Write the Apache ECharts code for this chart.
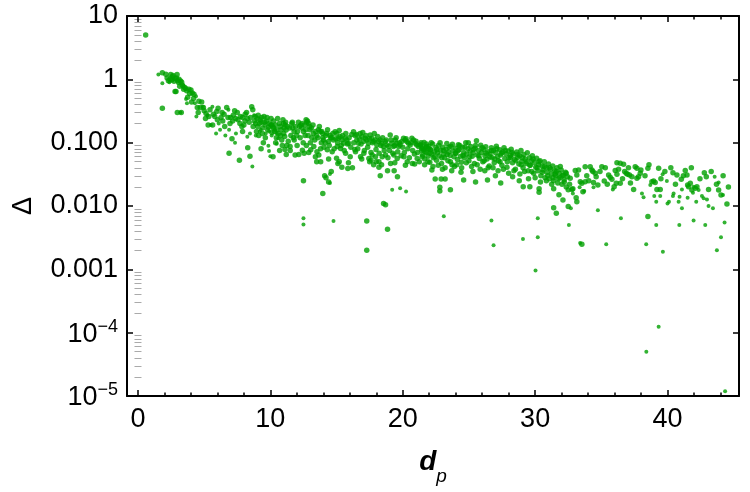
<!DOCTYPE html>
<html>
<head>
<meta charset="utf-8">
<script src="https://cdn.jsdelivr.net/npm/echarts@6/dist/echarts.min.js"></script>
<style>
  html, body { margin: 0; padding: 0; background: #fff; }
  #chart { width: 750px; height: 492px; }
</style>
</head>
<body>
<div id="chart"></div>
<script>
// axis ranges and ticks
const xRange = [-0.83, 45.4];
const yRange = [1e-5, 10];
const xMajorTicks = [0, 10, 20, 30, 40];
const xMinorTicks = [2, 4, 6, 8, 12, 14, 16, 18, 22, 24, 26, 28, 32, 34, 36, 38, 42, 44];
const yDecades = [-5, -4, -3, -2, -1, 0];
const yMantissas = [2, 3, 4, 5, 6, 7, 8, 9];
const yTickText = { '1': '10', '0': '1', '-1': '0.100', '-2': '0.010', '-3': '0.001', '-4': '{b|10}{s|−4}', '-5': '{b|10}{s|−5}' };

// Δ against d_p (bigger dots)
const headPts = [
  [0.58,5.0],[1.84,1.27],[2.47,1.19],[2.95,1.19],[2.55,0.98],[2.42,1.0],[2.8,1.03],[2.72,0.93],[3.22,0.94],
  [3.35,0.81],[3.07,0.89],[2.6,1.1],[2.9,1.05],[3.1,1.0],[2.2,1.05],[3.5,0.75],[3.6,0.72],[3.15,0.78],
  [2.8,0.64],[2.87,0.64],[2.97,0.30],[3.27,0.30],[1.84,0.35],[3.68,0.66],[3.85,0.70],[4.0,0.68],[4.1,0.61],
  [4.23,0.58],[3.75,0.52],[4.05,0.44],[4.48,0.36],[4.7,0.36],[4.94,0.36],[4.81,0.44],[5.14,0.29],[5.44,0.33],
  [5.3,0.19],[5.64,0.19],[5.95,0.31],[6.27,0.25],[5.8,0.26],[6.0,0.23],[6.4,0.22],[6.5,0.28],[6.7,0.36],
  [6.95,0.20],[7.0,0.25],[7.1,0.115],[7.2,0.27],[7.38,0.24],[7.5,0.30],[7.7,0.20],[7.85,0.18],[7.9,0.25],
  [8.08,0.22],[8.1,0.28],[8.26,0.24],[7.9,0.15],[8.4,0.21],[8.59,0.37],[8.67,0.33],[8.8,0.22],[8.89,0.20],
  [9.0,0.24],[9.04,0.18],[9.17,0.20],[9.3,0.21],[9.42,0.17],[9.52,0.26],[9.6,0.19],[9.7,0.22],[9.85,0.175],
  [10.03,0.19],[10.18,0.178],[9.47,0.10],[10.2,0.06],[8.29,0.083],[8.46,0.061],[6.88,0.068],[7.66,0.053],
  [2.1,1.2],[2.3,0.95],[2.65,1.15],[3.0,0.95],[3.3,0.9],[3.45,0.7],[3.9,0.6],[4.2,0.5],[4.6,0.45],[4.55,0.3],
  [5.0,0.32],[5.1,0.24],[5.35,0.26],[5.7,0.28],[6.05,0.35],[6.35,0.3],[6.55,0.18],[6.8,0.25],[7.15,0.22],
  [7.3,0.32],[7.55,0.23],[7.75,0.26],[8.0,0.19],[8.2,0.3],[8.5,0.25],[8.7,0.18]
];
const midPts = [
  [10.1,0.19],[10.23,0.17],[10.31,0.15],[10.48,0.16],[10.61,0.14],[10.74,0.18],[10.77,0.13],[10.86,0.11],
  [10.99,0.20],[11.04,0.17],[11.11,0.19],[11.19,0.158],[11.0,0.14],[11.24,0.09],[11.1,0.078],[10.4,0.10],
  [10.9,0.09],[11.49,0.087],[11.62,0.20],[11.69,0.17],[11.79,0.15],[11.74,0.12],[11.87,0.064],[11.99,0.13],
  [12.02,0.09],[12.2,0.18],[12.3,0.19],[12.37,0.17],[12.42,0.076],[12.5,0.15],[12.55,0.068],[12.62,0.13],
  [12.7,0.23],[12.75,0.21],[12.8,0.22],[12.72,0.09],[12.95,0.18],[13.0,0.16],[13.05,0.077],[13.13,0.12],
  [13.25,0.14],[13.28,0.087],[13.5,0.13],[13.52,0.072],[13.63,0.16],[13.66,0.064],[13.76,0.15],[13.79,0.08],
  [13.88,0.15],[13.96,0.12],[14.01,0.11],[14.14,0.10],[14.26,0.14],[14.3,0.077],[14.39,0.104],[14.51,0.13],
  [14.64,0.12],[14.67,0.072],[14.77,0.11],[14.89,0.149],[15.02,0.14],[15.05,0.087],[15.14,0.117],[15.27,0.124],
  [15.3,0.081],[15.4,0.11],[15.52,0.098],[15.65,0.117],[15.68,0.068],[15.77,0.11],[15.9,0.098],[16.03,0.06],
  [16.28,0.149],[16.4,0.13],[16.43,0.072],[16.53,0.11],[16.66,0.098],[16.78,0.14],[16.81,0.06],[16.91,0.124],
  [17.03,0.104],[17.06,0.068],[17.16,0.117],[17.28,0.11],[17.41,0.0975],[17.44,0.056],[17.54,0.132],[17.66,0.117],
  [17.69,0.064],[17.79,0.104],[17.91,0.11],[17.94,0.06],[18.04,0.092],[18.17,0.104],[18.2,0.05],[18.29,0.11],
  [18.42,0.0975],[18.45,0.06],[18.54,0.087],[18.67,0.104],[18.7,0.064],[18.8,0.092],[18.92,0.087],[19.05,0.132],
  [19.08,0.047],[19.17,0.0975],[19.3,0.087],[19.33,0.064],[19.43,0.11],[19.55,0.0975],[19.58,0.056],[19.68,0.087],
  [19.8,0.092],[19.93,0.104],[20.06,0.117],[20.09,0.06],[20.18,0.11],[20.31,0.104],[20.34,0.05],[20.43,0.0975],
  [20.56,0.092],[20.69,0.117],[20.72,0.047],[20.81,0.11],[20.94,0.0975],[21.06,0.092],[21.09,0.056],[21.19,0.087],
  [21.31,0.092],[21.44,0.081],[21.47,0.06],[21.57,0.077],[21.69,0.072],[21.82,0.087],[21.94,0.081],[22.07,0.077],
  [12.5,0.025],[13.5,0.05],[13.8,0.05],[13.96,0.0158],[14.1,0.03],[14.2,0.028],[14.4,0.024],[14.6,0.035],
  [15.0,0.057],[15.1,0.047],[15.4,0.041],[15.85,0.039],[17.28,0.0058],[17.28,0.002],[17.6,0.053],[17.8,0.045],
  [18.0,0.05],[18.2,0.041],[18.3,0.03],[18.55,0.011],[18.7,0.0105],[18.85,0.0043],[18.85,0.036],[19.35,0.036],
  [19.6,0.029]
];
const tailPts = [
  [21.35,0.092],[21.43,0.075],[21.5,0.064],[21.61,0.101],[21.66,0.055],[21.74,0.083],[21.8,0.07],[21.91,0.061],
  [21.95,0.088],[22.04,0.049],[22.1,0.078],[22.19,0.066],[22.26,0.095],[22.31,0.058],[22.4,0.072],[22.5,0.084],
  [22.55,0.053],[22.62,0.069],[22.71,0.091],[22.77,0.062],[22.86,0.076],[22.93,0.047],[23.03,0.085],[23.1,0.066],
  [23.16,0.058],[23.27,0.079],[23.33,0.097],[23.41,0.052],[23.46,0.071],[23.58,0.063],[23.63,0.088],[23.72,0.045],
  [23.8,0.074],[23.87,0.06],[23.97,0.082],[24.02,0.068],[24.13,0.054],[24.2,0.093],[24.26,0.077],[24.37,0.061],
  [24.43,0.049],[24.52,0.085],[24.61,0.07],[24.66,0.058],[24.76,0.1],[24.83,0.066],[24.93,0.08],[25.0,0.052],
  [25.09,0.073],[25.14,0.087],[25.25,0.061],[25.31,0.069],[25.41,0.047],[25.46,0.082],[25.57,0.107],[25.63,0.064],
  [25.72,0.075],[25.79,0.056],[25.89,0.091],[25.95,0.07],[26.05,0.05],[26.11,0.079],[26.21,0.062],[26.27,0.086],
  [26.37,0.055],[26.43,0.072],[26.53,0.043],[26.6,0.066],[26.69,0.083],[26.75,0.058],[26.85,0.075],[26.91,0.048],
  [27.01,0.069],[27.07,0.088],[27.17,0.06],[27.23,0.052],[27.33,0.077],[27.39,0.064],[27.49,0.044],[27.55,0.071],
  [27.65,0.083],[27.71,0.056],[27.81,0.067],[27.87,0.041],[27.97,0.074],[28.03,0.058],[28.13,0.063],[28.19,0.079],
  [28.29,0.048],[28.35,0.066],[28.45,0.054],[28.51,0.038],[28.61,0.071],[28.67,0.059],[28.77,0.046],[28.83,0.062],
  [28.93,0.075],[28.99,0.051],[29.09,0.04],[29.15,0.065],[29.25,0.055],[29.31,0.047],[29.41,0.069],[29.47,0.036],
  [29.57,0.058],[29.63,0.044],[29.73,0.052],[29.79,0.062],[29.89,0.033],[29.95,0.048],[30.05,0.041],[30.11,0.057],
  [30.21,0.036],[30.27,0.045],[30.37,0.052],[30.43,0.03],[30.53,0.043],[30.59,0.037],[30.69,0.05],[30.75,0.028],
  [30.85,0.04],[30.91,0.034],[31.01,0.046],[31.07,0.027],[31.17,0.038],[31.23,0.032],[31.33,0.043],[31.39,0.025],
  [31.49,0.036],[31.55,0.03],[31.65,0.04],[31.71,0.023],[31.81,0.033],[31.87,0.028],[31.97,0.037],[32.03,0.022],
  [32.13,0.031],[32.19,0.026],[32.29,0.034],[32.35,0.02],[32.45,0.029],
  [22.45,0.0267],[22.9,0.0267],[23.2,0.0267],[22.8,0.0197],[22.8,0.0173],[23.6,0.018],[24.6,0.0258],[25.5,0.024],
  [26.4,0.0258],[27.4,0.023],[28.8,0.025],[29.1,0.0202],[29.6,0.0202],[30.3,0.0188],[30.3,0.0165],[31.4,0.0188],
  [31.8,0.015],[32.1,0.0124],[31.4,0.0094],[31.6,0.0077],[32.5,0.0098],[32.85,0.0188],[33.1,0.0135]
];
// second pass over the dense band
const bandPts = [
  [8.85,0.26],[8.95,0.15],[9.08,0.27],[9.12,0.13],[9.22,0.23],[9.35,0.25],[9.4,0.14],[9.55,0.21],[9.62,0.12],
  [9.75,0.25],[9.8,0.16],[9.92,0.20],[10.05,0.24],[10.12,0.145],[10.25,0.22],[10.38,0.19],[10.45,0.12],[10.55,0.24],
  [10.68,0.2],[10.82,0.16],[10.95,0.23],[11.08,0.125],[11.15,0.21],[11.3,0.18],[11.35,0.105],[9.3,0.08],[10.7,0.075],
  [11.2,0.065],[11.45,0.17],[11.55,0.13],[11.66,0.21],[11.8,0.11],[11.9,0.18],[12.05,0.15],[12.12,0.21],[12.25,0.12],
  [12.4,0.2],[12.48,0.1],[12.6,0.19],[12.68,0.16],[12.85,0.13],[12.9,0.2],[13.02,0.1],[13.1,0.17],[13.22,0.19],
  [13.35,0.11],[13.42,0.15],[13.58,0.12],[13.7,0.18],[13.85,0.1],[11.5,0.075],[12.15,0.065],[12.9,0.07],[13.4,0.06],
  [13.95,0.14],[14.05,0.085],[14.18,0.13],[14.32,0.16],[14.45,0.09],[14.55,0.12],[14.72,0.14],[14.82,0.08],
  [14.95,0.115],[15.08,0.1],[15.2,0.155],[15.35,0.09],[15.45,0.13],[15.58,0.075],[15.7,0.14],[15.82,0.095],
  [15.95,0.12],[16.08,0.085],[16.15,0.135],[16.3,0.1],[16.38,0.078],[14.4,0.055],[15.2,0.05],[15.9,0.048],[16.2,0.04],
  [16.5,0.135],[16.6,0.08],[16.72,0.115],[16.85,0.095],[16.98,0.145],[17.1,0.075],[17.22,0.13],[17.35,0.085],
  [17.48,0.115],[17.6,0.07],[17.72,0.1],[17.85,0.14],[17.98,0.078],[18.1,0.125],[18.22,0.068],[18.35,0.09],
  [18.48,0.12],[18.6,0.075],[18.75,0.11],[18.88,0.058],[16.9,0.055],[17.5,0.05],[18.4,0.045],
  [19.0,0.075],[19.12,0.11],[19.25,0.068],[19.38,0.09],[19.5,0.12],[19.62,0.072],[19.75,0.1],[19.88,0.062],
  [20.0,0.085],[20.12,0.07],[20.25,0.115],[20.38,0.08],[20.5,0.058],[20.62,0.1],[20.75,0.075],[20.88,0.066],
  [21.0,0.105],[21.12,0.07],[21.25,0.05],[21.38,0.1],[19.4,0.048],[20.2,0.044],[20.9,0.046],
  [21.52,0.085],[21.65,0.045],[21.78,0.095],[21.9,0.05],[22.05,0.068],[22.15,0.1],[22.28,0.042],[22.42,0.06],
  [22.58,0.078],[22.68,0.044],[22.82,0.1],[22.95,0.058],[23.08,0.075],[23.2,0.04],[23.35,0.065],[23.5,0.085],
  [23.6,0.05],[23.75,0.094],[23.9,0.042],[23.98,0.068],[22.2,0.037],[23.0,0.038],[23.7,0.036],
  [24.08,0.045],[24.18,0.075],[24.3,0.09],[24.45,0.04],[24.55,0.063],[24.7,0.085],[24.8,0.048],[24.95,0.1],
  [25.05,0.06],[25.2,0.042],[25.35,0.078],[25.5,0.09],[25.62,0.045],[25.75,0.062],[25.85,0.038],[26.0,0.083],
  [26.15,0.052],[26.3,0.068],[26.45,0.04],[24.4,0.034],[25.3,0.035],[26.2,0.036],
  [26.58,0.06],[26.7,0.075],[26.82,0.04],[26.95,0.055],[27.1,0.08],[27.2,0.036],[27.35,0.05],[27.45,0.068],
  [27.6,0.038],[27.75,0.075],[27.9,0.05],[28.0,0.033],[28.15,0.058],[28.25,0.07],[28.4,0.036],[28.55,0.052],
  [28.7,0.065],[28.85,0.032],[28.95,0.045],[27.0,0.03],[28.3,0.029],
  [29.05,0.058],[29.2,0.035],[29.35,0.05],[29.5,0.027],[29.6,0.044],[29.75,0.035],[29.85,0.055],[30.0,0.028],
  [30.15,0.04],[30.3,0.05],[30.4,0.024],[30.55,0.034],[30.7,0.042],[30.85,0.025],[30.95,0.03],[31.1,0.04],
  [31.25,0.022],[31.35,0.028],[31.5,0.032],[31.6,0.035],[31.75,0.027],[31.9,0.042],[32.05,0.03],[32.2,0.024],
  [32.35,0.033],[32.5,0.018],[32.6,0.022]
];
const farPts = [
  [32.65,0.0274],[32.78,0.0183],[33.03,0.0362],[33.15,0.0309],[33.28,0.0371],[33.41,0.0242],[33.53,0.0228],
  [33.61,0.0168],[33.78,0.0418],[33.78,0.0242],[33.15,0.0117],[34.16,0.0418],[34.29,0.0371],[34.36,0.0349],
  [34.41,0.0234],[34.54,0.0328],[34.61,0.029],[34.74,0.0215],[35.04,0.0418],[35.22,0.0248],[35.55,0.0309],
  [35.67,0.0284],[35.8,0.0264],[35.97,0.0202],[36.05,0.0362],[36.13,0.0228],[36.18,0.0483],[36.18,0.0316],
  [36.3,0.038],[36.43,0.0472],[36.43,0.0228],[36.68,0.0455],[36.76,0.0349],[36.88,0.0328],[36.98,0.0316],
  [37.13,0.0309],[37.31,0.029],[37.44,0.0183],[37.56,0.0418],[37.69,0.0394],[37.69,0.0274],[37.81,0.029],
  [37.94,0.0328],[37.99,0.0371],[38.52,0.0394],[38.82,0.0242],[38.95,0.0248],[39.07,0.0234],[39.2,0.0183],
  [39.33,0.0394],[39.45,0.0183],[40.41,0.0336],[40.71,0.0309],[41.04,0.0264],[41.34,0.0362],[41.47,0.0309],
  [41.52,0.0215],[41.59,0.0202],[41.72,0.0228],[41.84,0.0179],[42.1,0.019],[42.22,0.0202],[42.78,0.0336],
  [42.93,0.029],[43.1,0.0183],[43.86,0.0179],[44.04,0.0149],[44.49,0.0108],[38.52,0.0068],[33.53,0.0025],
  [33.9,0.03],[34.05,0.025],[34.9,0.035],[35.3,0.04],[35.45,0.022],[36.6,0.027],[37.05,0.04],[37.2,0.023],
  [38.3,0.03],[38.6,0.045],[39.5,0.027],[39.8,0.035],[40.25,0.04],[40.6,0.022],[41.2,0.03],[41.8,0.04],
  [42.45,0.027],[43.3,0.035],[43.7,0.022],[44.2,0.03],[44.6,0.02]
];
// smaller dots
const faintPts = [
  [1.54,1.19],[1.84,0.87],[2.37,0.90],[3.43,0.80],[3.63,0.49],[3.7,0.42],[4.3,0.42],[4.38,0.54],[4.41,0.26],
  [4.9,0.37],[5.24,0.27],[5.62,0.37],[5.5,0.19],[6.1,0.20],[6.2,0.16],[6.83,0.33],[6.88,0.16],[7.33,0.10],
  [8.26,0.124],[8.46,0.14],[8.77,0.27],[9.27,0.16],[9.65,0.14],[10.35,0.16],[10.48,0.14],[10.6,0.117],
  [8.64,0.042],[9.85,0.089],[9.9,0.074],[10.0,0.061],[10.48,0.096],[3.2,0.30],[5.9,0.14],[6.6,0.13],[7.4,0.14],
  [8.9,0.13],[9.2,0.15],[9.9,0.15],[10.1,0.13],
  [12.5,0.0064],[12.5,0.0051],[14.77,0.0058],[19.2,0.018],[19.8,0.019],[20.25,0.017],[14.5,0.023],[14.5,0.032],
  [23.1,0.0069],[26.7,0.0059],[26.86,0.0024],[29.08,0.003],[30.2,0.0064],[30.2,0.0032],[30.03,0.00096],
  [32.55,0.005],[33.4,0.0026],[32.7,0.0092],[32.85,0.0158],[33.36,0.0197],[33.71,0.0173],[34.41,0.0197],
  [34.74,0.0086],[35.87,0.0183],[36.48,0.0064],[38.07,0.0158],[38.19,0.0137],[38.7,0.0215],[39.0,0.0144],
  [39.15,0.0117],[39.45,0.0144],[39.63,0.0316],[39.95,0.0248],[40.0,0.011],[40.11,0.0117],[40.46,0.0158],
  [40.41,0.0144],[40.84,0.0117],[40.91,0.014],[41.09,0.0092],[41.09,0.0183],[41.52,0.0135],[41.92,0.0162],
  [41.97,0.0202],[42.17,0.0117],[42.35,0.0179],[42.6,0.0144],[42.73,0.0132],[42.98,0.0127],[43.1,0.01],
  [43.43,0.0092],[43.56,0.029],[43.86,0.0234],[44.19,0.0149],
  [35.37,0.0025],[38.39,0.0025],[39.15,0.005],[40.89,0.005],[41.97,0.0059],[42.85,0.005],[44.04,0.0032],
  [44.31,0.0055],[43.73,0.002],[39.65,0.0019],[39.33,0.000124],[38.4,0.00005],[44.35,0.0000119]
];

const green = '#00a000';
const font = 'Liberation Sans, Arial, sans-serif';

// minor tick positions on the exponent axis
const yMinorExps = [];
yDecades.forEach(d => yMantissas.forEach(m => yMinorExps.push(d + Math.log10(m))));

const chart = echarts.init(document.getElementById('chart'));

function xAxisDef(pos, ticks, len, withLabels) {
  return {
    type: 'value', position: pos, min: xRange[0], max: xRange[1],
    axisLine: { show: len > 4, onZero: false, lineStyle: { color: '#000', width: 2 } },
    axisTick: { inside: true, length: len, customValues: ticks, lineStyle: { color: '#000', width: 1.5 } },
    axisLabel: withLabels
      ? { customValues: ticks, fontSize: 27, color: '#000', fontFamily: font, margin: 10 }
      : { show: false },
    splitLine: { show: false }
  };
}

function yMinorAxis(pos) {
  return {
    type: 'value', position: pos, min: -5, max: 1,
    axisLine: { show: false },
    axisTick: { inside: true, length: 3.5, customValues: yMinorExps, lineStyle: { color: '#aaa', width: 1 } },
    axisLabel: { show: false }, splitLine: { show: false }
  };
}

chart.setOption({
  animation: false,
  backgroundColor: '#fff',
  grid: { left: 127, top: 16, right: 11, bottom: 96 },
  xAxis: [
    Object.assign(xAxisDef('bottom', xMajorTicks, 6, true), {
      name: '{d|d}{p|p}', nameLocation: 'middle', nameGap: 52,
      nameTextStyle: {
        rich: {
          d: { fontSize: 28, fontWeight: 'bold', fontStyle: 'italic', fontFamily: font, color: '#000', lineHeight: 38, verticalAlign: 'top' },
          p: { fontSize: 19, fontStyle: 'italic', fontFamily: font, color: '#000', lineHeight: 38, verticalAlign: 'bottom' }
        }
      }
    }),
    xAxisDef('bottom', xMinorTicks, 3.5, false),
    xAxisDef('top', xMajorTicks, 6, false),
    xAxisDef('top', xMinorTicks, 3.5, false)
  ],
  yAxis: [
    {
      type: 'log', logBase: 10, position: 'left', min: yRange[0], max: yRange[1],
      name: 'Δ', nameLocation: 'middle', nameGap: 90,
      nameTextStyle: { fontSize: 27, color: '#000', fontFamily: font },
      axisLine: { show: true, onZero: false, lineStyle: { color: '#000', width: 2 } },
      axisTick: { inside: true, length: 6, lineStyle: { color: '#000', width: 1.5 } },
      axisLabel: {
        fontSize: 27, color: '#000', fontFamily: font, margin: 9,
        formatter: v => yTickText[String(Math.round(Math.log10(v)))],
        rich: {
          b: { fontSize: 27, color: '#000', fontFamily: font, lineHeight: 30, verticalAlign: 'bottom' },
          s: { fontSize: 18, color: '#000', fontFamily: font, lineHeight: 30, verticalAlign: 'top' }
        }
      },
      splitLine: { show: false }
    },
    yMinorAxis('left'),
    {
      type: 'log', logBase: 10, position: 'right', min: yRange[0], max: yRange[1],
      axisLine: { show: true, onZero: false, lineStyle: { color: '#000', width: 2 } },
      axisTick: { inside: true, length: 6, lineStyle: { color: '#000', width: 1.5 } },
      axisLabel: { show: false }, splitLine: { show: false }
    },
    yMinorAxis('right')
  ],
  series: [
    {
      name: 'Δ', type: 'scatter', xAxisIndex: 0, yAxisIndex: 0,
      symbol: 'circle', symbolSize: 5.5,
      itemStyle: { color: green },
      data: headPts.concat(midPts, tailPts, bandPts, farPts)
    },
    {
      name: 'Δ small', type: 'scatter', xAxisIndex: 0, yAxisIndex: 0,
      symbol: 'circle', symbolSize: 4,
      itemStyle: { color: green },
      data: faintPts
    }
  ]
});
</script>
</body>
</html>
